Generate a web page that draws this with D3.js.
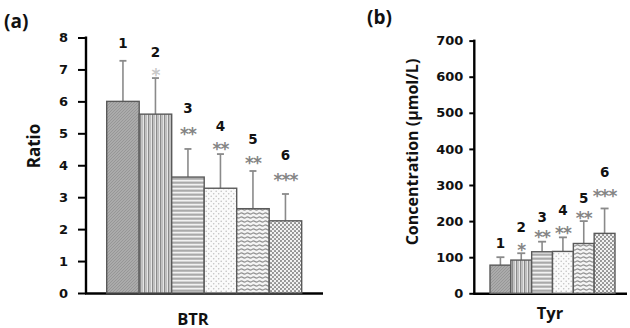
<!DOCTYPE html>
<html>
<head>
<meta charset="utf-8">
<script src="https://cdn.jsdelivr.net/npm/d3@7"></script>
<style>
  body { margin: 0; background: #fff; }
  svg { display: block; }
  text { font-family: "DejaVu Sans", sans-serif; font-weight: bold; }
</style>
</head>
<body>
<script>
// Groups 1–6
const groups = ["1", "2", "3", "4", "5", "6"];

// Panel (a): BTR ratio, mean and upper error
const btrMean = [6.0, 5.6, 3.63, 3.28, 2.64, 2.26];
const btrErr  = [1.27, 1.13, 0.88, 1.07, 1.18, 0.84];
const btrSig  = ["", "*", "**", "**", "**", "***"];
const btrTicks = [0, 1, 2, 3, 4, 5, 6, 7, 8];

// Panel (b): Tyr concentration (µmol/L), mean and upper error
const tyrMean = [78, 92, 115, 116, 138, 166];
const tyrErr  = [22, 19, 28, 39, 62, 69];
const tyrSig  = ["", "*", "**", "**", "**", "***"];
const tyrTicks = [0, 100, 200, 300, 400, 500, 600, 700];

const W = 630, H = 328;
const svg = d3.select("body").append("svg").attr("width", W).attr("height", H);
const defs = svg.append("defs");

// Fill textures for the six groups
function pat(id, w, h, bg, draw) {
  const p = defs.append("pattern").attr("id", id)
    .attr("patternUnits", "userSpaceOnUse").attr("width", w).attr("height", h);
  p.append("rect").attr("width", w).attr("height", h).attr("fill", bg);
  draw(p);
}
pat("g1", 3, 3, "#ababab", p => {
  p.append("path").attr("d", "M0,3L3,0").attr("stroke", "#959595").attr("stroke-width", 0.9);
});
pat("g2", 4, 4, "#e6e6e6", p => {
  p.append("rect").attr("x", 0).attr("width", 1.4).attr("height", 4).attr("fill", "#8a8a8a");
  p.append("rect").attr("x", 2.2).attr("width", 0.8).attr("height", 4).attr("fill", "#b5b5b5");
});
pat("g3", 4, 4, "#c4c4c4", p => {
  p.append("rect").attr("y", 0).attr("width", 4).attr("height", 1.3).attr("fill", "#f2f2f2");
  p.append("rect").attr("y", 2.4).attr("width", 4).attr("height", 0.8).attr("fill", "#999");
});
pat("g4", 5, 5, "#fbfbfb", p => {
  p.append("circle").attr("cx", 1.2).attr("cy", 1.2).attr("r", 0.8).attr("fill", "#c2c2c2");
  p.append("circle").attr("cx", 3.7).attr("cy", 3.7).attr("r", 0.8).attr("fill", "#c2c2c2");
});
pat("g5", 6, 4, "#f4f4f4", p => {
  p.append("path").attr("d", "M0,1.5Q1.5,0.3 3,1.5T6,1.5").attr("fill", "none")
    .attr("stroke", "#8f8f8f").attr("stroke-width", 1.2);
});
pat("g6", 4, 4, "#f2f2f2", p => {
  p.append("circle").attr("cx", 1).attr("cy", 1).attr("r", 1.05).attr("fill", "#8c8c8c");
  p.append("circle").attr("cx", 3).attr("cy", 3).attr("r", 1.05).attr("fill", "#8c8c8c");
});

function panel(cfg) {
  const g = svg.append("g");
  const y = d3.scaleLinear().domain(cfg.domain).range([cfg.y0, cfg.y1]);
  const x = d3.scaleBand().domain(groups).range([cfg.bx0, cfg.bx1]).padding(0);

  // y axis
  const ya = g.append("g").attr("transform", `translate(${cfg.ax},0)`)
    .call(d3.axisLeft(y).tickValues(cfg.ticks).tickSize(cfg.tick).tickPadding(cfg.pad));
  ya.select(".domain").attr("stroke", "#000").attr("stroke-width", 2.4)
    .attr("d", `M0,${cfg.y1 - 1}V${cfg.y0 + 1}`);
  ya.selectAll(".tick line").attr("stroke", "#000").attr("stroke-width", 2);
  ya.selectAll(".tick text").attr("fill", "#111").style("font-size", "13px");

  // x axis line
  g.append("line").attr("x1", cfg.ax - 1).attr("x2", cfg.axEnd)
    .attr("y1", cfg.y0 + 0.5).attr("y2", cfg.y0 + 0.5)
    .attr("stroke", "#000").attr("stroke-width", 2.4);

  // error bars
  groups.forEach((k, i) => {
    const cx = x(k) + x.bandwidth() / 2;
    const top = y(cfg.mean[i] + cfg.err[i]);
    g.append("line").attr("x1", cx).attr("x2", cx)
      .attr("y1", y(cfg.mean[i])).attr("y2", top)
      .attr("stroke", "#8a8a8a").attr("stroke-width", 1.6);
    g.append("line").attr("x1", cx - cfg.cap).attr("x2", cx + cfg.cap)
      .attr("y1", top).attr("y2", top)
      .attr("stroke", "#8a8a8a").attr("stroke-width", 1.8);
  });

  // bars
  g.selectAll("rect.bar").data(groups).join("rect").attr("class", "bar")
    .attr("x", k => x(k)).attr("width", x.bandwidth())
    .attr("y", (k, i) => y(cfg.mean[i]))
    .attr("height", (k, i) => cfg.y0 - y(cfg.mean[i]))
    .attr("fill", (k, i) => `url(#g${i + 1})`)
    .attr("stroke", "#5a5a5a").attr("stroke-width", 1.4);

  // group numbers and significance stars
  groups.forEach((k, i) => {
    const cx = x(k) + x.bandwidth() / 2;
    g.append("text").attr("x", cx).attr("y", cfg.numY[i]).attr("text-anchor", "middle")
      .attr("dominant-baseline", "central").style("font-size", "13.5px").attr("fill", "#111").text(k);
    if (cfg.sig[i]) {
      g.append("text").attr("x", cx).attr("y", cfg.starY[i] + 5.5).attr("text-anchor", "middle")
        .attr("dominant-baseline", "central").style("font-size", "17px")
        .style("letter-spacing", "-1px")
        .attr("fill", cfg.faint && i === 1 ? "#c8c8c8" : "#858585").text(cfg.sig[i]);
    }
  });

  // titles
  g.append("text").attr("x", cfg.tagX).attr("y", cfg.tagY)
    .style("font-family", "'Open Sans', sans-serif").style("font-size", "19px").attr("fill", "#111").text(cfg.tag);
  g.append("text").attr("transform", `translate(${cfg.ylX},${cfg.ylY}) rotate(-90)`)
    .attr("text-anchor", "middle").attr("dominant-baseline", "central")
    .style("font-family", "'Open Sans', sans-serif").style("font-size", cfg.ylSize).attr("fill", "#111").text(cfg.ylabel);
  g.append("text").attr("x", cfg.xlX).attr("y", cfg.xlY).attr("text-anchor", "middle")
    .attr("dominant-baseline", "central")
    .style("font-family", "'Open Sans', sans-serif").style("font-size", "16.5px").attr("fill", "#111").text(cfg.xlabel);
}

panel({
  domain: [0, 8], ticks: btrTicks, y0: 293, y1: 37.5,
  ax: 86, axEnd: 323, bx0: 106.7, bx1: 301.7, tick: 8, pad: 10, cap: 3.5,
  mean: btrMean, err: btrErr, sig: btrSig, faint: true,
  numY: [43, 52, 108, 126, 139, 155], starY: [0, 69, 128, 143, 157, 174],
  tag: "(a)", tagX: 4, tagY: 28,
  ylabel: "Ratio", ylX: 33, ylY: 146, ylSize: "17px",
  xlabel: "BTR", xlX: 193, xlY: 318
});

panel({
  domain: [0, 700], ticks: tyrTicks, y0: 293.3, y1: 40.6,
  ax: 474.3, axEnd: 627, bx0: 490, bx1: 615, tick: 5, pad: 6, cap: 4,
  mean: tyrMean, err: tyrErr, sig: tyrSig, faint: false,
  numY: [243, 227, 217, 210, 198, 172], starY: [0, 244, 231, 227, 212, 190],
  tag: "(b)", tagX: 367, tagY: 24,
  ylabel: "Concentration (µmol/L)", ylX: 412, ylY: 152, ylSize: "16px",
  xlabel: "Tyr", xlX: 550, xlY: 312
});
</script>
</body>
</html>
